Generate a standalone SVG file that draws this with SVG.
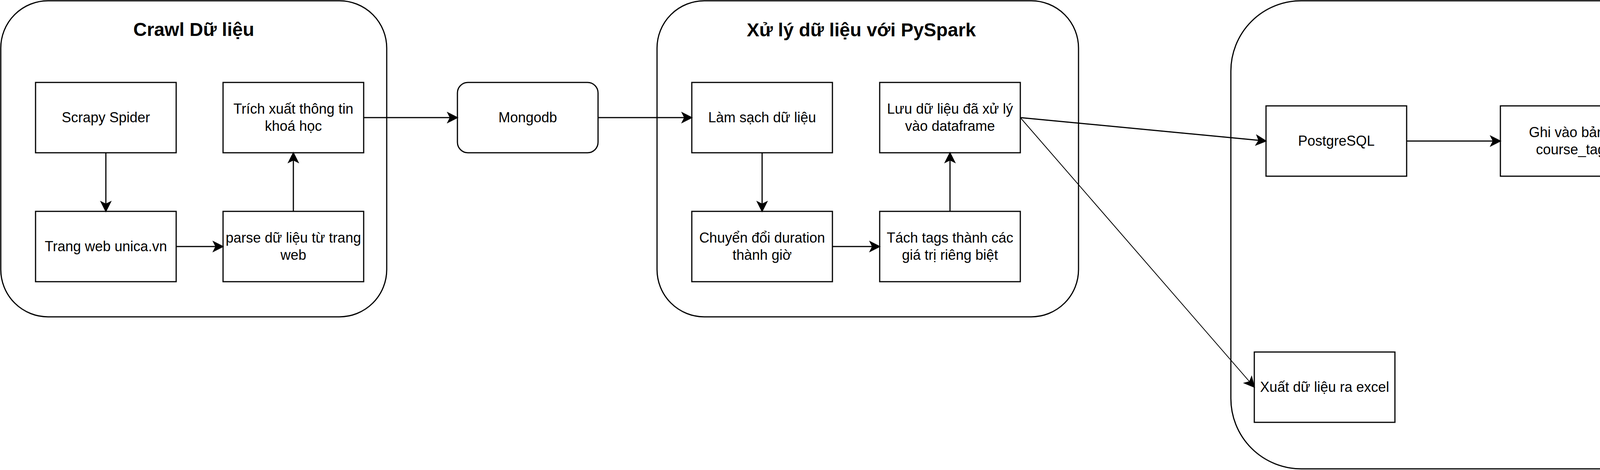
<svg xmlns="http://www.w3.org/2000/svg" width="6093" height="1203" viewBox="0 0 6093 1203">
<style>
.bg{fill:#ffffff}
.cont{fill:#ffffff;stroke:#000;stroke-width:3}
.box{fill:#ffffff;stroke:#000;stroke-width:3}
.t{font-family:"Liberation Sans",Arial,Helvetica,sans-serif;font-size:36px;fill:#000;text-anchor:middle}
.title{font-family:"Liberation Sans",Arial,Helvetica,sans-serif;font-size:48px;font-weight:bold;fill:#000;text-anchor:middle}
.edge{fill:none;stroke:#000;stroke-width:3;marker-end:url(#arr)}
.thin{stroke-width:2}
</style>
<defs>
<marker id="arr" markerUnits="userSpaceOnUse" markerWidth="30" markerHeight="30" viewBox="0 0 26 26" refX="8" refY="13" orient="auto">
<path d="M26,13 L0,0 L6.5,13 L0,26 Z" fill="#000" stroke="none"/>
</marker>
</defs>
<rect class="bg" x="0" y="0" width="6093" height="1203"/>

<g id="container-crawl">
<rect class="cont" x="2" y="2" width="988" height="809" rx="121" ry="121"/>
<text class="title" x="496" y="92">Crawl Dữ liệu</text>
</g>
<g id="container-xuly">
<rect class="cont" x="1682" y="2" width="1079" height="809" rx="121" ry="121"/>
<text class="title" x="2205" y="93">Xử lý dữ liệu với PySpark</text>
</g>
<g id="container-luutru">
<rect class="cont" x="3151" y="2" width="2939" height="1198" rx="180" ry="180"/>
<text class="title" x="4634" y="121">Lưu trữ và xuất dữ liệu</text>
</g>

<g id="n-scrapy"><rect class="box" x="91" y="211" width="360" height="180"/><text class="t" x="271" y="313">Scrapy Spider</text></g>
<g id="n-trichxuat"><rect class="box" x="571" y="211" width="360" height="180"/><text class="t" x="751" y="291">Trích xuất thông tin</text><text class="t" x="751" y="335">khoá học</text></g>
<g id="n-trangweb"><rect class="box" x="91" y="541" width="360" height="180"/><text class="t" x="271" y="643">Trang web unica.vn</text></g>
<g id="n-parse"><rect class="box" x="571" y="541" width="360" height="180"/><text class="t" x="751" y="621">parse dữ liệu từ trang</text><text class="t" x="751" y="665">web</text></g>
<g id="n-mongodb"><rect class="box" x="1171" y="211" width="360" height="180" rx="27" ry="27"/><text class="t" x="1351" y="313">Mongodb</text></g>

<g id="n-lamsach"><rect class="box" x="1771" y="211" width="360" height="180"/><text class="t" x="1951" y="313">Làm sạch dữ liệu</text></g>
<g id="n-luudf"><rect class="box" x="2252" y="211" width="360" height="180"/><text class="t" x="2432" y="291">Lưu dữ liệu đã xử lý</text><text class="t" x="2432" y="335">vào dataframe</text></g>
<g id="n-chuyendoi"><rect class="box" x="1771" y="541" width="360" height="180"/><text class="t" x="1951" y="621">Chuyển đổi duration</text><text class="t" x="1951" y="665">thành giờ</text></g>
<g id="n-tachtags"><rect class="box" x="2252" y="541" width="360" height="180"/><text class="t" x="2432" y="621">Tách tags thành các</text><text class="t" x="2432" y="665">giá trị riêng biệt</text></g>

<g id="n-postgres"><rect class="box" x="3241" y="271" width="360" height="180"/><text class="t" x="3421" y="373">PostgreSQL</text></g>
<g id="n-coursetag"><rect class="box" x="3841" y="271" width="360" height="180"/><text class="t" x="4021" y="351">Ghi vào bảng</text><text class="t" x="4021" y="395">course_tag</text></g>
<g id="n-anhxatags"><rect class="box" x="4471" y="271" width="360" height="180"/><text class="t" x="4651" y="330">Ánh xạ tags từ</text><text class="t" x="4651" y="373">tag_name sang</text><text class="t" x="4651" y="416">tag_id</text></g>
<g id="n-instructor"><rect class="box" x="5071" y="271" width="360" height="180"/><text class="t" x="5251" y="373">ghi bảng instructor</text></g>
<g id="n-instructorid"><rect class="box" x="5611" y="271" width="360" height="180"/><text class="t" x="5791" y="373">Ánh xạ instructor_id</text></g>
<g id="n-course"><rect class="box" x="5611" y="601" width="360" height="180"/><text class="t" x="5791" y="703">Ghi vào bảng course</text></g>
<g id="n-courseid"><rect class="box" x="5071" y="601" width="360" height="180"/><text class="t" x="5251" y="681">Ánh xạ course_id với</text><text class="t" x="5251" y="725">tag_id</text></g>
<g id="n-assign"><rect class="box" x="4426" y="601" width="450" height="180"/><text class="t" x="4651" y="681">ghi bảng</text><text class="t" x="4651" y="725">course_tag_assignments</text></g>
<g id="n-excel"><rect class="box" x="3211" y="901" width="360" height="180"/><text class="t" x="3391" y="1003">Xuất dữ liệu ra excel</text></g>

<g id="connectors">
<line class="edge" x1="271" y1="391" x2="271" y2="523"/>
<line class="edge" x1="451" y1="631" x2="553" y2="631"/>
<line class="edge" x1="751" y1="541" x2="751" y2="409"/>
<line class="edge" x1="931" y1="301" x2="1153" y2="301"/>
<line class="edge" x1="1531" y1="301" x2="1753" y2="301"/>
<line class="edge" x1="1951" y1="391" x2="1951" y2="523"/>
<line class="edge" x1="2131" y1="631" x2="2234" y2="631"/>
<line class="edge" x1="2432" y1="541" x2="2432" y2="409"/>
<line class="edge" x1="2612" y1="301" x2="3223.1" y2="359.3"/>
<line class="edge thin" x1="2612" y1="301" x2="3199.2" y2="977.4"/>
<line class="edge" x1="3601" y1="361" x2="3823" y2="361"/>
<line class="edge" x1="4201" y1="361" x2="4453" y2="361"/>
<line class="edge" x1="4831" y1="361" x2="5053" y2="361"/>
<line class="edge" x1="5431" y1="361" x2="5593" y2="361"/>
<line class="edge" x1="5821" y1="451" x2="5822.8" y2="583"/>
<line class="edge" x1="5611" y1="691" x2="5449" y2="691"/>
<line class="edge" x1="5071" y1="691" x2="4894" y2="691"/>
</g>
</svg>
